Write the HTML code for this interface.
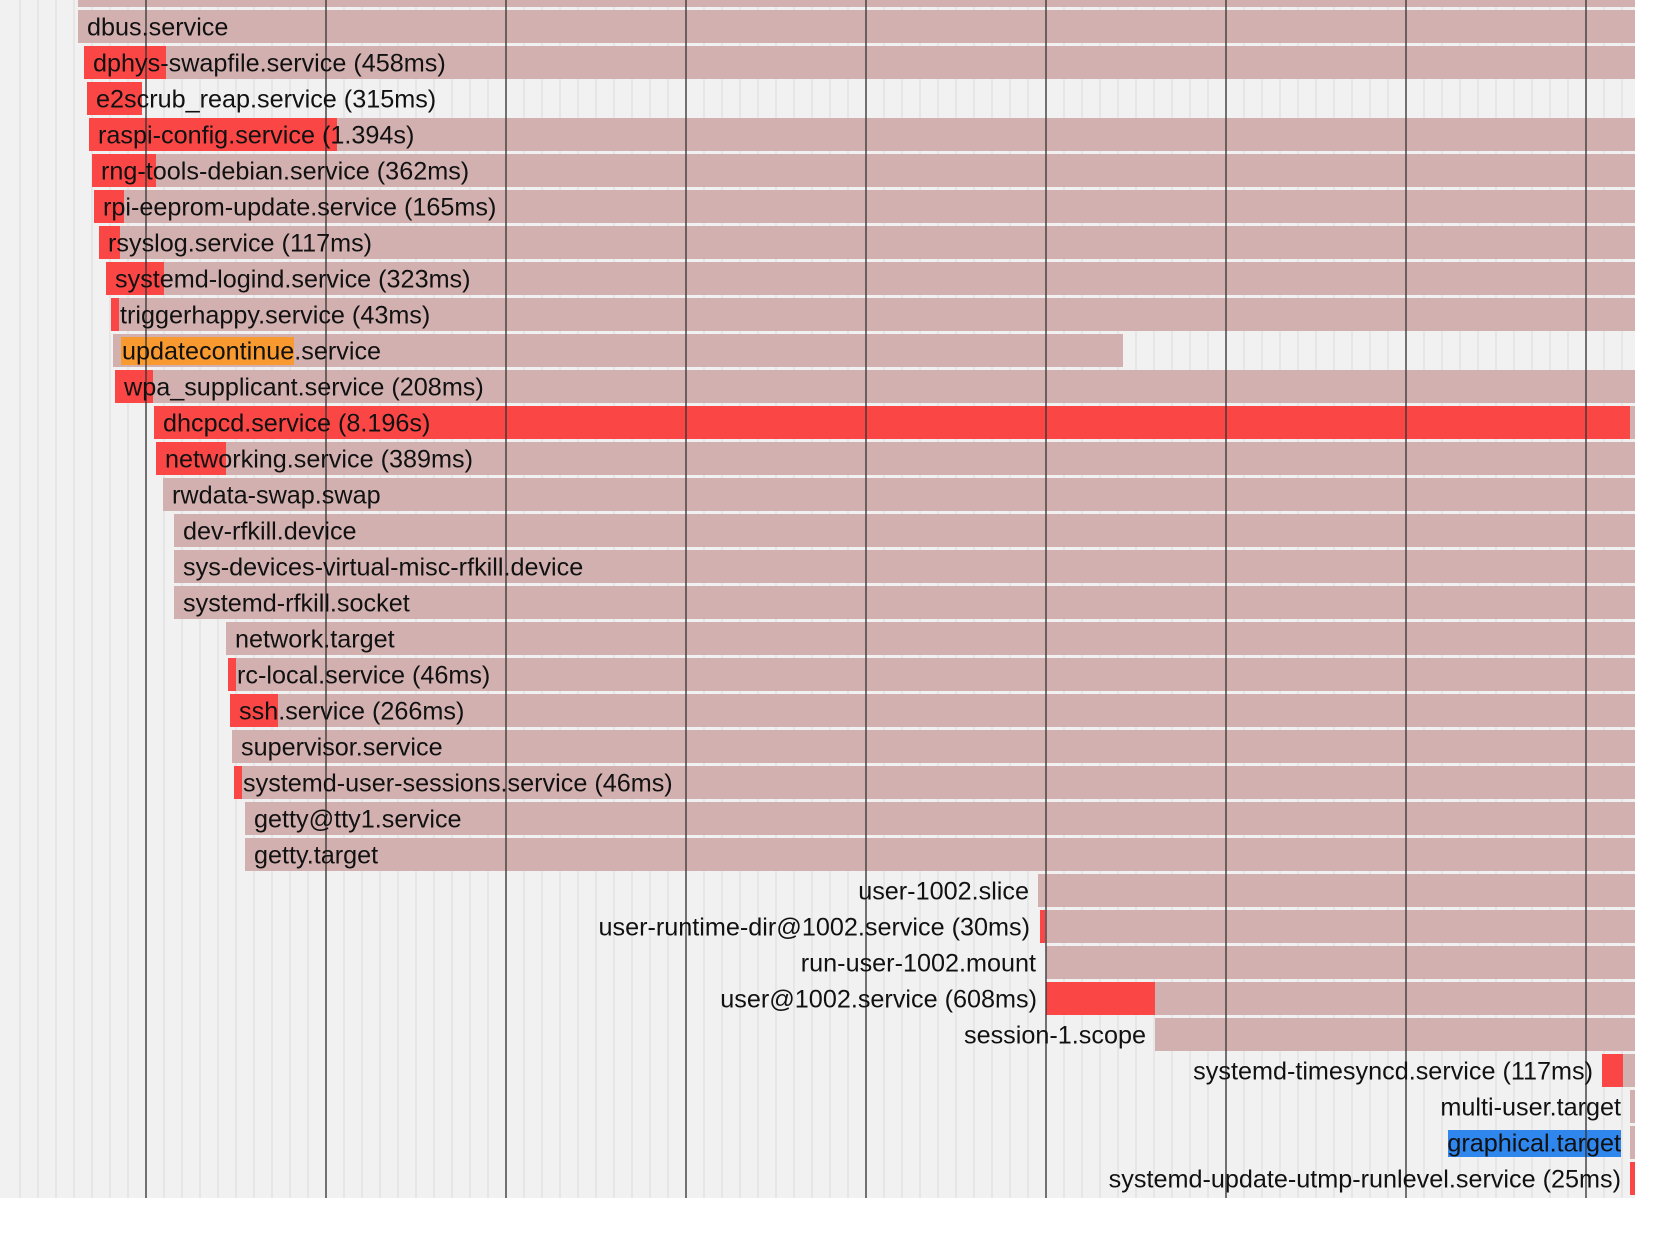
<!DOCTYPE html>
<html><head><meta charset="utf-8"><style>
html,body{margin:0;padding:0;background:#fff;width:1677px;height:1234px;overflow:hidden}
svg{display:block}
text{font-family:"Liberation Sans",sans-serif;font-size:25.2px;fill:#111}
</style></head><body>
<svg width="1677" height="1234" viewBox="0 0 1677 1234" xmlns="http://www.w3.org/2000/svg">
<rect x="0" y="0" width="1635" height="1198" fill="#f1f1f1"/>
<g stroke="#e2e2e2" stroke-width="1.5">
<path d="M20 0V1198M38 0V1198M56 0V1198M74 0V1198M92 0V1198M110 0V1198M128 0V1198"/>
</g>
<g id="minor" stroke="#e2e2e2" stroke-width="1.5"></g>
<g id="bars"></g>
<g id="major" stroke="rgba(50,50,50,0.65)" stroke-width="2"></g>
<g id="labels"></g>
</svg>
<script>
const ns="http://www.w3.org/2000/svg";
function el(p,t,a,txt){const e=document.createElementNS(ns,t);for(const k in a)e.setAttribute(k,a[k]);if(txt!==undefined)e.textContent=txt;document.getElementById(p).appendChild(e);return e;}
let d="";for(let x=146;x<1635;x+=18)d+=`M${x} 0V1198`;el("minor","path",{d:d});
let D="";for(let x=146;x<1640;x+=180)D+=`M${x} 0V1198`;el("major","path",{d:D});
const R=[
["",78,0,1635,"l"],
["dbus.service",78,0,1635,"l"],
["dphys-swapfile.service (458ms)",84,166,1635,"l"],
["e2scrub_reap.service (315ms)",87,142,142,"l"],
["raspi-config.service (1.394s)",89,337,1635,"l"],
["rng-tools-debian.service (362ms)",92,156,1635,"l"],
["rpi-eeprom-update.service (165ms)",94,124,1635,"l"],
["rsyslog.service (117ms)",99,120,1635,"l"],
["systemd-logind.service (323ms)",106,164,1635,"l"],
["triggerhappy.service (43ms)",111,119,1635,"l"],
["updatecontinue.service",113,0,1123,"l"],
["wpa_supplicant.service (208ms)",115,153,1635,"l"],
["dhcpcd.service (8.196s)",154,1630,1635,"l"],
["networking.service (389ms)",156,226,1635,"l"],
["rwdata-swap.swap",163,0,1635,"l"],
["dev-rfkill.device",174,0,1635,"l"],
["sys-devices-virtual-misc-rfkill.device",174,0,1635,"l"],
["systemd-rfkill.socket",174,0,1635,"l"],
["network.target",226,0,1635,"l"],
["rc-local.service (46ms)",228,236,1635,"l"],
["ssh.service (266ms)",230,278,1635,"l"],
["supervisor.service",232,0,1635,"l"],
["systemd-user-sessions.service (46ms)",234,242,1635,"l"],
["getty@tty1.service",245,0,1635,"l"],
["getty.target",245,0,1635,"l"],
["user-1002.slice",1038,0,1635,"r",1029],
["user-runtime-dir@1002.service (30ms)",1040,1045,1635,"r",1030],
["run-user-1002.mount",1046,0,1635,"r",1036],
["user@1002.service (608ms)",1046,1155,1635,"r",1037],
["session-1.scope",1155,0,1635,"r",1146],
["systemd-timesyncd.service (117ms)",1602,1623,1635,"r",1593],
["multi-user.target",1630,0,1635,"r",1621],
["graphical.target",1630,0,1635,"r",1621],
["systemd-update-utmp-runlevel.service (25ms)",1630,1635,1635,"r",1621]
];
R.forEach((r,i)=>{
 const top=10+36*(i-1);
 const [lab,s,re,pe,al,te]=r;
 if(pe>s) el("bars","rect",{x:s,y:top,width:pe-s,height:33,fill:"#d3b0b0"});
 if(re>s) el("bars","rect",{x:s,y:top,width:re-s,height:33,fill:"#fb4646"});
 if(!lab) return;
 const cy=top+16.5+9;
 if(lab==="updatecontinue.service"){
   el("bars","rect",{x:121,y:top+3,width:173,height:28,fill:"#f89a30"});
 }
 if(lab==="graphical.target"){
   el("bars","rect",{x:1448,y:top+4,width:173,height:27,fill:"#2f86ec"});
 }
 if(al==="l") el("labels","text",{x:s+9,y:cy},lab);
 else el("labels","text",{x:te,y:cy,"text-anchor":"end"},lab);
});
</script>
</body></html>
